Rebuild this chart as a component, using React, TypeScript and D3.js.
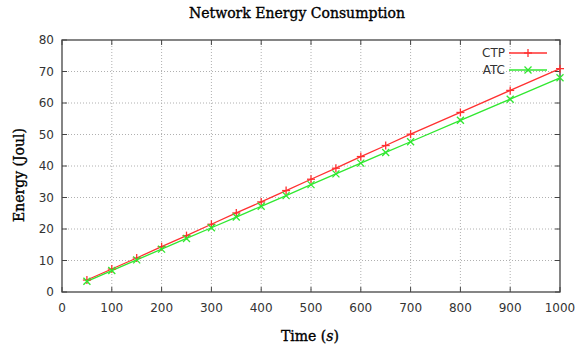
import React from "react";
import * as d3 from "d3";

const times = [50, 100, 150, 200, 250, 300, 350, 400, 450, 500, 550, 600, 650, 700, 800, 900, 1000];
const ctp = [3.8, 7.3, 10.8, 14.4, 17.9, 21.5, 25.1, 28.6, 32.2, 35.8, 39.3, 43.0, 46.5, 50.1, 57.0, 64.0, 70.9];
const atc = [3.4, 6.8, 10.2, 13.6, 17.0, 20.4, 23.8, 27.2, 30.6, 34.1, 37.5, 40.9, 44.3, 47.7, 54.5, 61.2, 68.0];
const xTicks = [0, 100, 200, 300, 400, 500, 600, 700, 800, 900, 1000];
const yTicks = [0, 10, 20, 30, 40, 50, 60, 70, 80];

const W = 578, H = 349;
const L = 62, R = 560, T = 40, B = 292;

export default function App() {
  const x = d3.scaleLinear().domain([0, 1000]).range([L, R]);
  const y = d3.scaleLinear().domain([0, 80]).range([B, T]);
  const line = d3.line<[number, number]>().x(d => x(d[0])).y(d => y(d[1]));
  const ctpPts: [number, number][] = times.map((t, i) => [t, ctp[i]]);
  const atcPts: [number, number][] = times.map((t, i) => [t, atc[i]]);
  const red = "#ff3030";
  const green = "#30e830";
  const plus = (cx: number, cy: number, c: string, k: string) => (
    <g key={k} stroke={c} strokeWidth={1.3}>
      <line x1={cx - 4} x2={cx + 4} y1={cy} y2={cy} />
      <line x1={cx} x2={cx} y1={cy - 4} y2={cy + 4} />
    </g>
  );
  const cross = (cx: number, cy: number, c: string, k: string) => (
    <g key={k} stroke={c} strokeWidth={1.3}>
      <line x1={cx - 3.5} x2={cx + 3.5} y1={cy - 3.5} y2={cy + 3.5} />
      <line x1={cx - 3.5} x2={cx + 3.5} y1={cy + 3.5} y2={cy - 3.5} />
    </g>
  );
  const tickFont = "DejaVu Sans, sans-serif";
  const serif = "DejaVu Serif, serif";
  return (
    <svg width={W} height={H} style={{ position: "absolute", left: 0, top: 0, background: "#fff" }}>
      <rect x={0} y={0} width={W} height={H} fill="#fff" />
      {/* grid */}
      <g stroke="#b0b0b0" strokeWidth={1} strokeDasharray="1,2">
        {xTicks.slice(1, -1).map(t => (
          <line key={"gx" + t} x1={x(t)} x2={x(t)} y1={T} y2={B} />
        ))}
        {yTicks.slice(1, -1).map(t => (
          <line key={"gy" + t} x1={L} x2={R} y1={y(t)} y2={y(t)} />
        ))}
      </g>
      {/* ticks */}
      <g stroke="#444" strokeWidth={1}>
        {xTicks.map(t => (
          <g key={"tx" + t}>
            <line x1={x(t)} x2={x(t)} y1={B} y2={B - 5} />
            <line x1={x(t)} x2={x(t)} y1={T} y2={T + 5} />
          </g>
        ))}
        {yTicks.map(t => (
          <g key={"ty" + t}>
            <line x1={L} x2={L + 5} y1={y(t)} y2={y(t)} />
            <line x1={R} x2={R - 5} y1={y(t)} y2={y(t)} />
          </g>
        ))}
      </g>
      <rect x={L} y={T} width={R - L} height={B - T} fill="none" stroke="#444" strokeWidth={1.3} />
      {/* tick labels */}
      <g fontFamily={tickFont} fontSize={12} fill="#333">
        {xTicks.map(t => (
          <text key={"lx" + t} x={x(t)} y={B + 20} textAnchor="middle">{t}</text>
        ))}
        {yTicks.map(t => (
          <text key={"ly" + t} x={L - 8} y={y(t) + 4} textAnchor="end">{t}</text>
        ))}
      </g>
      {/* lines */}
      <path d={line(ctpPts) || ""} fill="none" stroke={red} strokeWidth={1.3} />
      <path d={line(atcPts) || ""} fill="none" stroke={green} strokeWidth={1.3} />
      {ctpPts.map((p, i) => plus(x(p[0]), y(p[1]), red, "c" + i))}
      {atcPts.map((p, i) => cross(x(p[0]), y(p[1]), green, "a" + i))}
      {/* legend */}
      <g fontFamily={tickFont} fontSize={12} fill="#333">
        <text x={505} y={57} textAnchor="end">CTP</text>
        <text x={505} y={74} textAnchor="end">ATC</text>
      </g>
      <line x1={509} x2={547} y1={53} y2={53} stroke={red} strokeWidth={1.3} />
      {plus(528, 53, red, "lc")}
      <line x1={509} x2={547} y1={70} y2={70} stroke={green} strokeWidth={1.3} />
      {cross(528, 70, green, "la")}
      {/* titles */}
      <g fontFamily={serif} fontSize={14} fill="#000" stroke="#000" strokeWidth={0.35}>
        <text x={297} y={18} textAnchor="middle">Network Energy Consumption</text>
        <text x={310} y={341} textAnchor="middle">
          Time (<tspan fontStyle="italic">s</tspan>)
        </text>
        <text transform={`translate(24, 175) rotate(-90)`} textAnchor="middle">Energy (Joul)</text>
      </g>
    </svg>
  );
}
